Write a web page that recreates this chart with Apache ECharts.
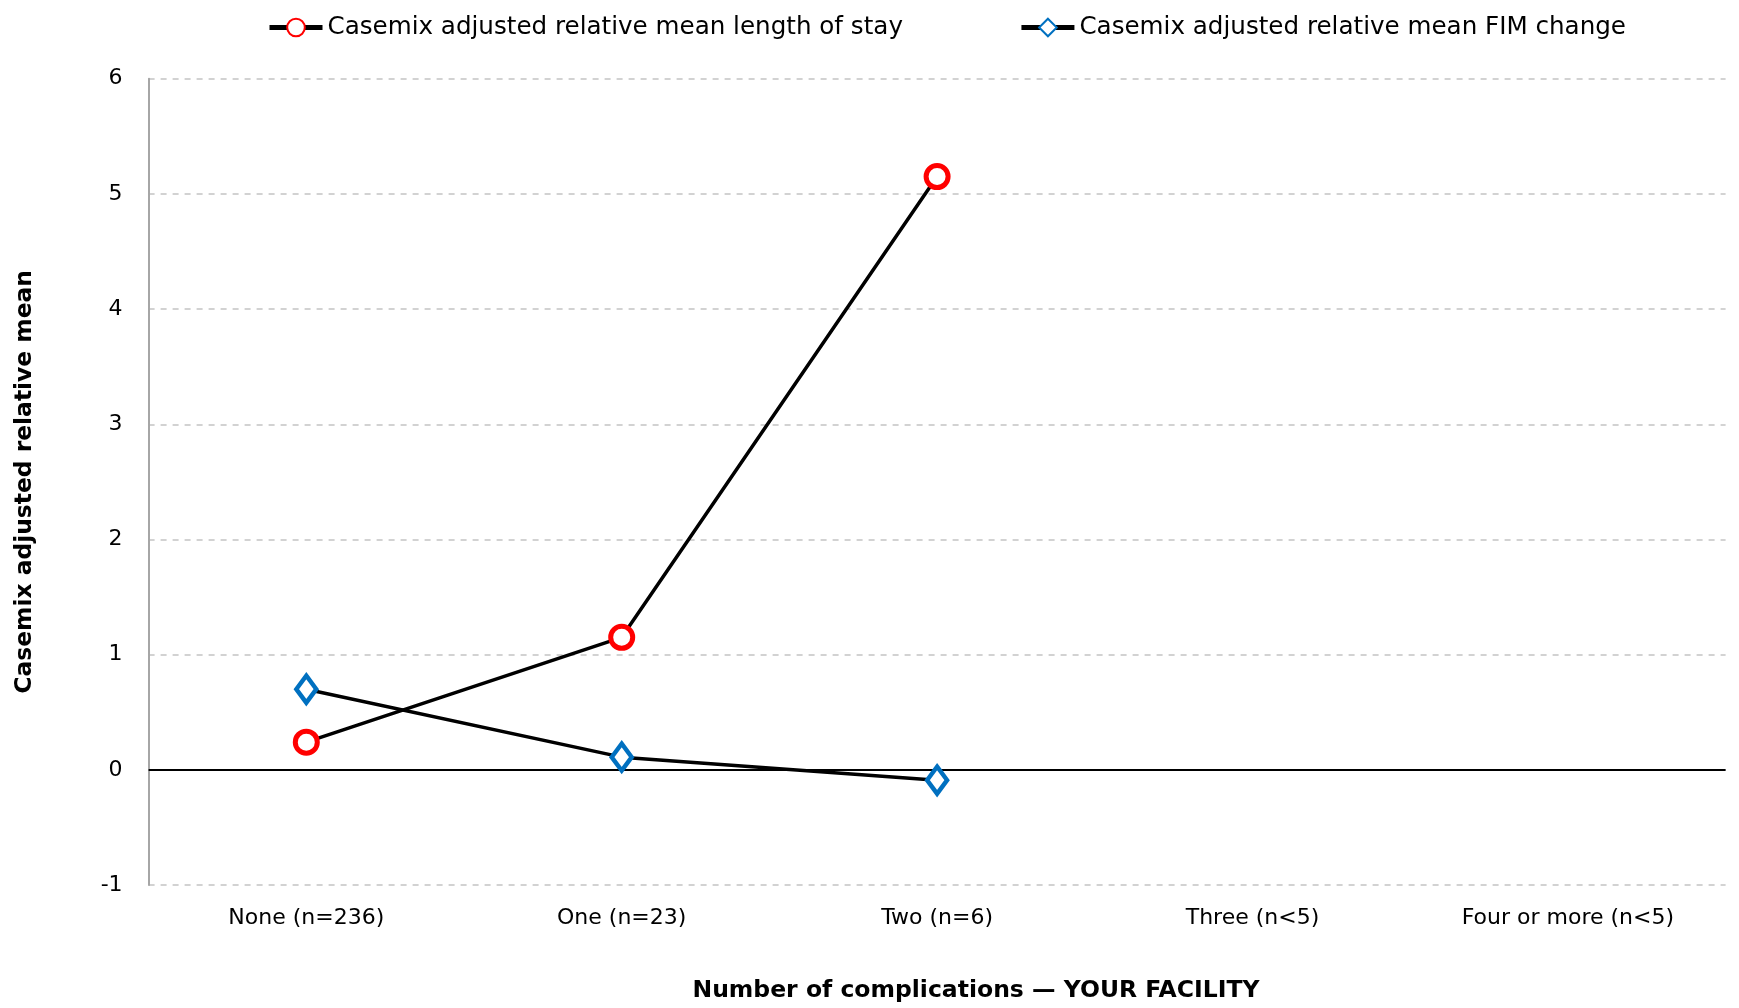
<!DOCTYPE html>
<html><head><meta charset="utf-8">
<script src="https://cdn.jsdelivr.net/npm/echarts@6/dist/echarts.min.js"></script>
<style>html,body{margin:0;padding:0;background:#fff}#c{width:1739px;height:1008px}</style>
</head><body><div id="c"></div>
<script>
const categories = ['None (n=236)', 'One (n=23)', 'Two (n=6)', 'Three (n<5)', 'Four or more (n<5)'];
const losValues = [0.24, 1.15, 5.15, null, null];
const fimValues = [0.70, 0.11, -0.09, null, null];
const yTicks = [-1, 0, 1, 2, 3, 4, 5, 6];
const seriesNames = ['Casemix adjusted relative mean length of stay', 'Casemix adjusted relative mean FIM change'];

const FONT = 'DejaVu Sans';
const chart = echarts.init(document.getElementById('c'), null, {renderer: 'canvas'});
chart.setOption({
  animation: false,
  backgroundColor: '#fff',
  textStyle: {fontFamily: FONT},
  title: {
    text: 'Number of complications — YOUR FACILITY',
    left: 971, top: 974, textAlign: 'center',
    textStyle: {fontFamily: FONT, fontWeight: 'bold', fontSize: 23.5, color: '#000'}
  },
  legend: {
    left: 262, top: 10, itemGap: 116, itemWidth: 53, itemHeight: 22,
    textStyle: {fontFamily: FONT, fontSize: 24.6, color: '#000'},
    lineStyle: {width: 5, color: '#000'},
    data: seriesNames
  },
  grid: {left: 148.6, right: 13.4, top: 78.7, bottom: 123, containLabel: false},
  xAxis: {
    type: 'category', data: categories, boundaryGap: true,
    axisLine: {show: false, onZero: false},
    axisTick: {show: false},
    axisLabel: {fontFamily: FONT, fontSize: 22, color: '#000', margin: 22}
  },
  yAxis: {
    type: 'value', min: yTicks[0], max: yTicks[yTicks.length - 1], interval: 1,
    name: 'Casemix adjusted relative mean', nameLocation: 'middle', nameGap: 112, nameRotate: 90,
    nameTextStyle: {fontFamily: FONT, fontWeight: 'bold', fontSize: 23.4, color: '#000'},
    axisLine: {show: true, lineStyle: {color: '#a6a6a6', width: 2}},
    axisTick: {show: false},
    axisLabel: {fontFamily: FONT, fontSize: 22, color: '#000', margin: 26},
    splitLine: {show: true, lineStyle: {color: '#c4c4c4', width: 1.5, type: [6, 6]}}
  },
  series: [
    {
      name: seriesNames[0], type: 'line', data: losValues, connectNulls: false,
      symbol: 'circle', symbolSize: 22, showAllSymbol: true,
      lineStyle: {color: '#000', width: 3.5},
      itemStyle: {color: '#fff', borderColor: '#ff0000', borderWidth: 5},
      z: 3,
      markLine: {
        silent: true, symbol: ['none', 'none'], label: {show: false},
        lineStyle: {color: '#000', width: 2, type: 'solid'},
        data: [{yAxis: 0}], z: 1
      }
    },
    {
      name: seriesNames[1], type: 'line', data: fimValues, connectNulls: false,
      symbol: 'diamond', symbolSize: [20, 27], showAllSymbol: true,
      lineStyle: {color: '#000', width: 3.5},
      itemStyle: {color: '#fff', borderColor: '#0070c0', borderWidth: 4.5},
      z: 4
    }
  ]
});
</script></body></html>
